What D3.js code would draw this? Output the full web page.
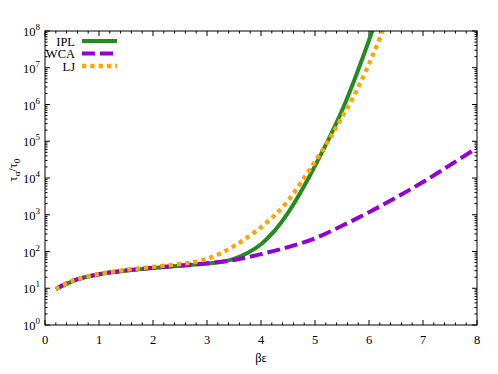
<!DOCTYPE html>
<html>
<head>
<meta charset="utf-8">
<script src="https://cdn.jsdelivr.net/npm/d3@7"></script>
<style>
  body { margin: 0; background: #fff; }
  svg text { font-family: "Liberation Serif", "DejaVu Serif", serif; fill: #000; }
</style>
</head>
<body>
<div id="chart"></div>
<script>
// beta*epsilon values and tau_alpha/tau_0 for each model
const ipl = [
  [0.2, 9.5], [0.4, 13.2], [0.6, 17.4], [0.8, 20.9], [1.0, 24], [1.25, 27.5],
  [1.5, 30.2], [2.0, 35.5], [2.5, 40.7], [3.0, 46.8], [3.25, 51.3], [3.5, 63],
  [3.75, 91], [4.0, 158], [4.25, 363], [4.5, 1122], [4.75, 4470], [5.0, 2.14e4],
  [5.25, 1.12e5], [5.5, 6.8e5], [5.75, 5.6e6], [6.0, 5.6e7], [6.25, 6.3e8]
];
const wca = [
  [0.2, 9.5], [0.5, 15.8], [1.0, 24], [1.5, 30.2], [2.0, 36.3], [2.5, 41.7],
  [3.0, 47.9], [3.5, 58.9], [4.0, 85], [4.5, 132], [5.0, 229], [5.5, 501],
  [6.0, 1175], [6.5, 2950], [7.0, 7760], [7.5, 2.24e4], [8.0, 6.6e4]
];
const lj = [
  [0.2, 9.5], [0.5, 15.8], [1.0, 24.5], [1.5, 31.6], [2.0, 38], [2.5, 45.7],
  [2.75, 51.3], [3.0, 63], [3.25, 89], [3.5, 141], [3.75, 245], [4.0, 457],
  [4.25, 955], [4.5, 2400], [4.75, 7940], [5.0, 2.8e4], [5.25, 1.05e5],
  [5.5, 4.5e5], [5.75, 2.1e6], [6.0, 1.26e7], [6.25, 1e8], [6.5, 1e9]
];
const xTicks = [0, 1, 2, 3, 4, 5, 6, 7, 8];
const yExponents = [0, 1, 2, 3, 4, 5, 6, 7, 8];
const seriesNames = ['IPL', 'WCA', 'LJ'];

const width = 498, height = 374;
const margin = { top: 31, right: 21, bottom: 49, left: 45 };
const innerW = width - margin.left - margin.right;
const innerH = height - margin.top - margin.bottom;

const svg = d3.select('#chart').append('svg')
  .attr('width', width)
  .attr('height', height);

const g = svg.append('g').attr('transform', `translate(${margin.left},${margin.top})`);

const x = d3.scaleLinear().domain([0, 8]).range([0, innerW]);
const y = d3.scaleLog().domain([1, 1e8]).range([innerH, 0]);

// ticks (inside, mirrored on top and right)
const majorLen = 5, minorLen = 2.5;
const xMinor = d3.range(0, 8.001, 0.2).filter(v => Math.abs(v - Math.round(v)) > 1e-6);
const yMinor = [];
yExponents.slice(0, -1).forEach(e => {
  for (let m = 2; m <= 9; m++) yMinor.push(m * Math.pow(10, e));
});

const ticks = g.append('g').attr('stroke', '#000').attr('stroke-width', 1);
xTicks.forEach(v => {
  const px = x(v);
  ticks.append('line').attr('x1', px).attr('x2', px).attr('y1', innerH).attr('y2', innerH - majorLen);
  ticks.append('line').attr('x1', px).attr('x2', px).attr('y1', 0).attr('y2', majorLen);
});
xMinor.forEach(v => {
  const px = x(v);
  ticks.append('line').attr('x1', px).attr('x2', px).attr('y1', innerH).attr('y2', innerH - minorLen);
  ticks.append('line').attr('x1', px).attr('x2', px).attr('y1', 0).attr('y2', minorLen);
});
yExponents.forEach(e => {
  const py = y(Math.pow(10, e));
  ticks.append('line').attr('x1', 0).attr('x2', majorLen).attr('y1', py).attr('y2', py);
  ticks.append('line').attr('x1', innerW).attr('x2', innerW - majorLen).attr('y1', py).attr('y2', py);
});
yMinor.forEach(v => {
  const py = y(v);
  ticks.append('line').attr('x1', 0).attr('x2', minorLen).attr('y1', py).attr('y2', py);
  ticks.append('line').attr('x1', innerW).attr('x2', innerW - minorLen).attr('y1', py).attr('y2', py);
});

// tick labels
g.append('g').selectAll('text')
  .data(xTicks)
  .enter().append('text')
  .attr('x', d => x(d))
  .attr('y', innerH + 19)
  .attr('text-anchor', 'middle')
  .attr('font-size', 12.5)
  .text(d => d);

const yl = g.append('g').selectAll('text')
  .data(yExponents)
  .enter().append('text')
  .attr('x', -5)
  .attr('y', d => y(Math.pow(10, d)) + 5)
  .attr('text-anchor', 'end')
  .attr('font-size', 12.5);
yl.append('tspan').text('10');
yl.append('tspan').attr('font-size', 9).attr('dy', -6).text(d => d);

// axis titles
g.append('text')
  .attr('x', innerW / 2)
  .attr('y', innerH + 37)
  .attr('text-anchor', 'middle')
  .attr('font-size', 12.5)
  .text('βε');

const yt = svg.append('text')
  .attr('transform', `translate(17,${margin.top + innerH / 2 - 8}) rotate(-90)`)
  .attr('text-anchor', 'middle')
  .attr('font-size', 12.5);
yt.append('tspan').text('τ');
yt.append('tspan').attr('font-size', 9).attr('dy', 3).text('α');
yt.append('tspan').attr('dy', -3).text('/τ');
yt.append('tspan').attr('font-size', 9).attr('dy', 3).text('0');

// curves
svg.append('defs').append('clipPath').attr('id', 'plot-clip')
  .append('rect').attr('width', innerW).attr('height', innerH);

const line = d3.line()
  .x(d => x(d[0]))
  .y(d => y(d[1]))
  .curve(d3.curveCatmullRom.alpha(0.5));

const styles = {
  IPL: { data: ipl, color: '#228b22', dash: null, width: 4 },
  WCA: { data: wca, color: '#9400d3', dash: '13,5', width: 4 },
  LJ: { data: lj, color: '#ffa500', dash: '4.3,4', width: 4.3 }
};

const curves = g.append('g').attr('clip-path', 'url(#plot-clip)');
seriesNames.forEach(name => {
  const s = styles[name];
  curves.append('path')
    .attr('d', line(s.data))
    .attr('fill', 'none')
    .attr('stroke', s.color)
    .attr('stroke-width', s.width)
    .attr('stroke-dasharray', s.dash);
});

// legend
const legend = g.append('g');
seriesNames.forEach((name, i) => {
  const s = styles[name];
  const ly = 10 + i * 12.5;
  legend.append('text')
    .attr('x', 30)
    .attr('y', ly + 4.5)
    .attr('text-anchor', 'end')
    .attr('font-size', 12.5)
    .text(name);
  legend.append('line')
    .attr('x1', 37).attr('x2', 72)
    .attr('y1', ly).attr('y2', ly)
    .attr('stroke', s.color)
    .attr('stroke-width', s.width)
    .attr('stroke-dasharray', s.dash);
});

// border
g.append('rect')
  .attr('width', innerW)
  .attr('height', innerH)
  .attr('fill', 'none')
  .attr('stroke', '#000')
  .attr('stroke-width', 1);
</script>
</body>
</html>
